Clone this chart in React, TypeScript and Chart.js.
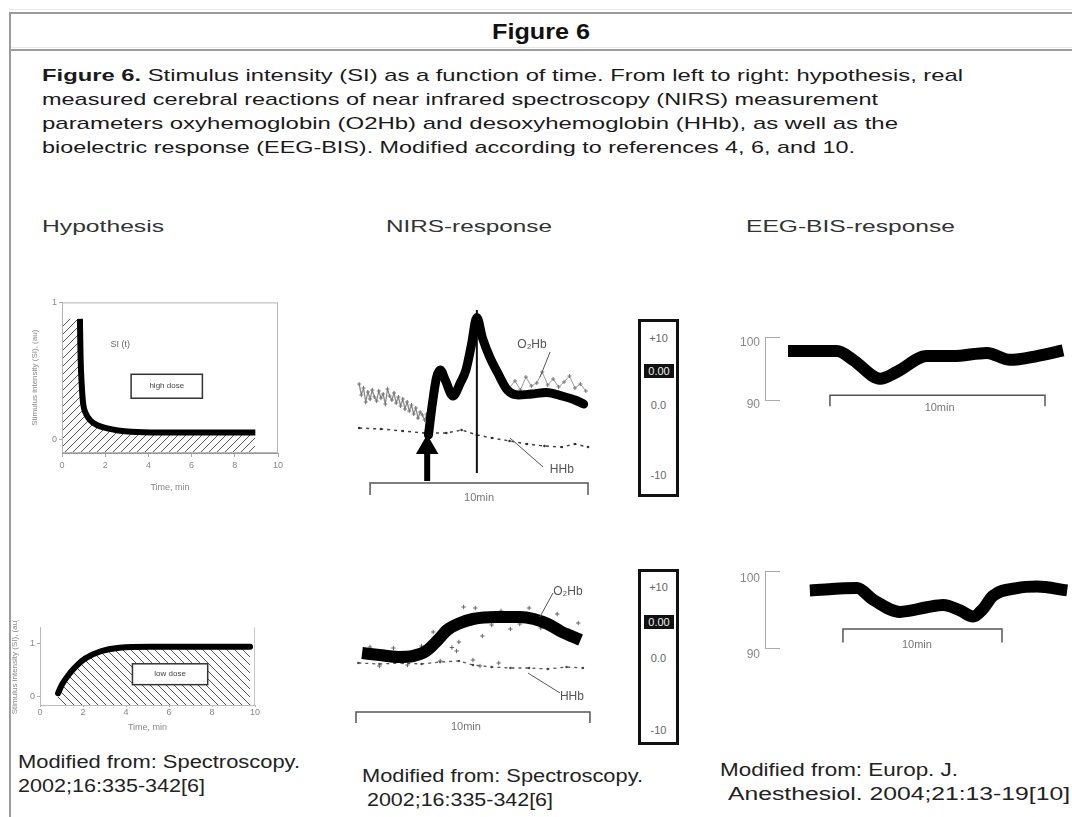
import React, { useEffect, useRef } from "react";
import { Chart, registerables } from "chart.js";

Chart.register(...registerables);

// ---------------- data ----------------
// Hypothesis panels: stimulus intensity (au) vs time (min)
const hypTickTimes = [0, 2, 4, 6, 8, 10];
const hypTickSI = [0, 1];
const hypTopTime = [0.83, 0.86, 0.92, 0.98, 1.1, 1.3, 1.6, 2.1, 2.6, 3.2, 4.5, 6, 7.5, 8.95];
const hypTopSI = [0.88, 0.6, 0.38, 0.26, 0.19, 0.14, 0.105, 0.08, 0.065, 0.055, 0.05, 0.05, 0.05, 0.05];
const hypBotTime = [0.84, 1.02, 1.4, 1.77, 2.1, 2.8, 3.7, 5.1, 7.5, 9.77];
const hypBotSI = [0.07, 0.23, 0.45, 0.61, 0.72, 0.85, 0.92, 0.94, 0.94, 0.94];

// NIRS top (time in min, concentration change in au)
const nirsTopO2HbTime = [2.68, 2.85, 3.05, 3.22, 3.45, 3.8, 4.15, 4.4, 4.65, 4.9, 5.15, 5.5, 5.85, 6.3, 6.8, 7.4, 8.1, 8.8, 9.4, 9.8];
const nirsTopO2Hb = [-7, -1, 4.5, 6, 4, 0.8, 3.5, 6, 11, 16.5, 12.5, 8.5, 5.5, 2, 1, 1.2, 1.5, 0.8, 0, -0.8];
const nirsTopRawTime = [-0.5, -0.4, -0.3, -0.2, -0.1, 0, 0.1, 0.2, 0.3, 0.4, 0.5, 0.6, 0.7, 0.8, 0.9, 1.0, 1.1, 1.2, 1.3, 1.4, 1.5, 1.6, 1.7, 1.8, 1.9, 2.0, 2.1, 2.2, 2.3, 2.4, 2.5, 2.6];
const nirsTopRaw = [3.2, 1.0, 2.4, -0.4, 1.6, 0.2, 2.0, 0.6, -0.2, 1.8, 0.4, 1.2, -0.8, 2.2, 0.8, 0.0, 1.4, -0.6, 0.6, -1.2, 0.2, -1.8, -0.4, -2.2, -1.0, -2.8, -1.6, -3.6, -2.4, -3.0, -4.0, -2.8];
const nirsTopRawLateTime = [6.4, 6.65, 6.9, 7.15, 7.4, 7.65, 7.9, 8.15, 8.4, 8.65, 8.9, 9.15, 9.4, 9.65, 9.9];
const nirsTopRawLate = [2.5, 3.8, 2.0, 4.6, 2.8, 3.4, 5.6, 3.0, 4.2, 2.6, 3.6, 4.8, 2.4, 3.2, 1.8];
const nirsTopHHbTime = [-0.5, 0.5, 1.5, 2.5, 3.5, 4.2, 4.9, 5.6, 6.4, 7.2, 8.0, 8.8, 9.4, 10.0];
const nirsTopHHb = [-5.6, -5.8, -6.2, -6.6, -6.6, -6.0, -7.0, -7.6, -8.2, -8.8, -9.2, -9.4, -8.8, -9.4];
const nirsTopStimTime = 4.9;
const nirsTopStimRange = [18, -14.6];
const nirsTopArrowTime = 2.62;
const nirsTopArrowRange = [-16.2, -9.5];

// NIRS bottom
const nirsBotO2HbTime = [0.26, 1.0, 1.8, 2.44, 3.0, 3.5, 3.9, 4.4, 5.0, 6.0, 7.0, 7.6, 8.2, 8.8, 9.3, 9.6];
const nirsBotO2Hb = [0.4, 0, -0.4, -0.2, 0.8, 3, 5, 6.3, 7.2, 7.6, 7.6, 7.2, 6.2, 4.6, 3.6, 3];
const nirsBotRawTime = [0.6, 1.0, 1.6, 2.2, 2.8, 3.3, 3.6, 4.1, 4.3, 4.4, 4.6, 5.0, 5.1, 5.3, 5.4, 5.8, 6.1, 6.2, 6.6, 7.0, 7.4, 7.9, 8.6, 9.1, 9.5];
const nirsBotRaw = [1.6, -2.2, 1.4, -2.0, 1.8, 4.6, -1.2, 1.5, 0.8, 2.6, 9.6, -1.0, 9.4, -2.2, 3.8, 6.0, -1.6, 8.8, 5.2, 6.2, 9.4, 5.4, 8.2, 5.0, 6.4];
const nirsBotHHbTime = [0.1, 1.0, 2.0, 2.8, 3.6, 4.4, 5.0, 5.8, 6.6, 7.4, 8.2, 9.0, 9.7];
const nirsBotHHb = [-1.6, -1.8, -1.6, -1.8, -1.4, -1.2, -2.0, -2.4, -2.6, -2.6, -2.8, -2.4, -2.6];

// scale bar (min) and scale box labels
const scaleBarMin = [0, 10];
const scaleBoxLabels = ["+10", "0.00", "0.0", "-10"];

// EEG-BIS
const bisTicks = [90, 100];
const eegTopTime = [-1.95, 0.33, 1.07, 2.33, 3.12, 4.51, 5.72, 7.3, 8.37, 9.63, 10.84];
const eegTopBIS = [97.8, 97.8, 96.4, 93.4, 94.5, 97.0, 97.0, 97.5, 96.4, 97.0, 97.9];
const eegBotTime = [-2.08, 0.88, 1.89, 3.58, 5.28, 6.29, 7.36, 8.18, 8.81, 9.43, 10.94, 12.2, 14.1];
const eegBotBIS = [97.5, 97.8, 96.3, 94.7, 95.3, 95.6, 94.9, 94.1, 95.1, 96.8, 97.8, 98.0, 97.5];

// ---------------- helpers ----------------
const FAMILY = '"Liberation Sans", Arial, Helvetica, sans-serif';
const xy = (xs: number[], ys: number[]) => xs.map((x, i) => ({ x, y: ys[i] }));

const mctx = document.createElement("canvas").getContext("2d")!;
const textWidth = (t: string, font: string) => {
  mctx.font = font;
  return mctx.measureText(t).width;
};

function hatch(ctx: CanvasRenderingContext2D, dir: number) {
  const c = document.createElement("canvas");
  c.width = 8;
  c.height = 8;
  const g = c.getContext("2d")!;
  g.strokeStyle = "#555";
  g.lineWidth = 1;
  g.beginPath();
  if (dir > 0) {
    g.moveTo(0, 8); g.lineTo(8, 0);
    g.moveTo(-1, 1); g.lineTo(1, -1);
    g.moveTo(7, 9); g.lineTo(9, 7);
  } else {
    g.moveTo(0, 0); g.lineTo(8, 8);
    g.moveTo(-1, 7); g.lineTo(1, 9);
    g.moveTo(7, -1); g.lineTo(9, 1);
  }
  g.stroke();
  return ctx.createPattern(c, "repeat");
}

function marks(cfg: any) {
  return {
    id: "marks",
    afterDatasetsDraw(chart: any) {
      const { ctx, chartArea: a } = chart;
      const X = chart.scales.x;
      const Y = chart.scales.y;
      const px = (v: number) => X.getPixelForValue(v);
      const py = (v: number) => Y.getPixelForValue(v);
      ctx.save();
      if (cfg.frame) {
        ctx.strokeStyle = cfg.frame;
        ctx.lineWidth = 1;
        ctx.strokeRect(a.left + 0.5, a.top + 0.5, a.width - 1, a.height - 1);
      }
      if (cfg.rightLine) {
        ctx.strokeStyle = cfg.rightLine;
        ctx.lineWidth = 1;
        ctx.beginPath();
        ctx.moveTo(a.right - 0.5, a.top);
        ctx.lineTo(a.right - 0.5, a.bottom);
        ctx.stroke();
      }
      (cfg.lines || []).forEach((l: any) => {
        ctx.strokeStyle = l.color || "#444";
        ctx.lineWidth = l.width || 1;
        ctx.beginPath();
        ctx.moveTo(px(l.x1), py(l.y1));
        ctx.lineTo(px(l.x2), py(l.y2));
        ctx.stroke();
      });
      (cfg.boxes || []).forEach((b: any) => {
        const x1 = px(b.x1), x2 = px(b.x2), y1 = py(b.y1), y2 = py(b.y2);
        ctx.fillStyle = "#fff";
        ctx.fillRect(x1, y1, x2 - x1, y2 - y1);
        ctx.strokeStyle = "#333";
        ctx.lineWidth = 1.5;
        ctx.strokeRect(x1, y1, x2 - x1, y2 - y1);
        ctx.fillStyle = "#444";
        ctx.font = b.font;
        ctx.textAlign = "center";
        ctx.textBaseline = "middle";
        ctx.fillText(b.text, (x1 + x2) / 2, (y1 + y2) / 2);
      });
      (cfg.texts || []).forEach((t: any) => {
        ctx.fillStyle = t.color || "#555";
        ctx.font = t.font;
        ctx.textAlign = t.align || "center";
        ctx.textBaseline = "middle";
        ctx.fillText(t.text, px(t.x), py(t.y));
      });
      if (cfg.yMarks) {
        ctx.strokeStyle = "#aaa";
        ctx.lineWidth = 1;
        Y.ticks.forEach((tk: any) => {
          const yy = Math.round(py(tk.value)) + 0.5;
          ctx.beginPath();
          ctx.moveTo(a.left, yy);
          ctx.lineTo(a.left + cfg.yMarks, yy);
          ctx.stroke();
        });
      }
      ctx.restore();
    },
  };
}

function ChartBox({ left, top, width, height, make }: any) {
  const ref = useRef<HTMLCanvasElement>(null);
  useEffect(() => {
    const canvas = ref.current!;
    const chart = new Chart(canvas, make(canvas.getContext("2d")));
    return () => chart.destroy();
  }, []);
  return (
    <canvas
      ref={ref}
      width={width}
      height={height}
      style={{ position: "absolute", left, top, width, height }}
    />
  );
}

const baseOptions = (padding: any) => ({
  responsive: false,
  animation: false as const,
  events: [],
  layout: { padding, autoPadding: false },
  plugins: { legend: { display: false }, tooltip: { enabled: false } },
});

const hiddenAxis = (min: number, max: number) => ({ type: "linear" as const, display: false, min, max });

const bracket = (y1: number, y2: number) =>
  [
    { x: scaleBarMin[0], y: y2 },
    { x: scaleBarMin[0], y: y1 },
    { x: scaleBarMin[1], y: y1 },
    { x: scaleBarMin[1], y: y2 },
  ];

const thick = (data: any[], width: number, order: number, cap = "round") => ({
  data,
  borderColor: "#000",
  borderWidth: width,
  pointRadius: 0,
  cubicInterpolationMode: "monotone",
  borderCapStyle: cap,
  borderJoinStyle: "round",
  fill: false,
  order,
});

const hypAxes = (cfg: any) => ({
  x: {
    type: "linear",
    min: 0,
    max: 10,
    afterBuildTicks: (s: any) => { s.ticks = hypTickTimes.map((v) => ({ value: v })); },
    afterFit: (s: any) => { s.height = cfg.xh; },
    ticks: { color: "#888", font: { size: 9, family: FAMILY }, padding: cfg.xpad, maxRotation: 0 },
    grid: { drawOnChartArea: false, tickLength: cfg.xtick, color: "#aaa" },
    border: { color: cfg.axisColor },
    title: { display: true, text: "Time, min", color: "#888", font: { size: 9, family: FAMILY }, padding: { top: cfg.xtpad, bottom: 0 } },
  },
  y: {
    type: "linear",
    min: cfg.ymin,
    max: cfg.ymax,
    afterBuildTicks: (s: any) => { s.ticks = hypTickSI.map((v) => ({ value: v })); },
    afterFit: (s: any) => { s.width = cfg.yw; },
    ticks: { color: "#888", font: { size: 9, family: FAMILY }, padding: 2 },
    grid: { drawOnChartArea: false, tickLength: 3, color: "#aaa" },
    border: { color: cfg.axisColor },
    title: { display: true, text: "Stimulus intensity (SI), (au)", color: "#888", font: { size: 8, family: FAMILY }, padding: { top: 0, bottom: 1 } },
  },
});

// ---------------- chart configs ----------------
const makeHypTop = (ctx: CanvasRenderingContext2D) => {
  const curve = xy(hypTopTime, hypTopSI);
  return {
    type: "line",
    data: {
      datasets: [
        thick(curve, 6, 1, "butt"),
        { data: [{ x: 0, y: hypTopSI[0] }, ...curve], borderWidth: 0, pointRadius: 0, cubicInterpolationMode: "monotone", fill: "start", backgroundColor: hatch(ctx, 1), order: 2 },
      ],
    },
    options: {
      ...baseOptions({ left: 8, top: 5, right: 12, bottom: 0 }),
      scales: hypAxes({ xh: 40, yw: 32, xpad: 3, xtick: 4, xtpad: 6, ymin: -0.1, ymax: 1.0, axisColor: "#999" }),
    },
    plugins: [
      marks({
        frame: "#b5b5b5",
        texts: [{ text: "SI (t)", x: 2.7, y: 0.69, font: `9px ${FAMILY}`, color: "#666" }],
        boxes: [{ x1: 3.2, y1: 0.475, x2: 6.5, y2: 0.3, text: "high dose", font: `8px ${FAMILY}` }],
      }),
    ],
  };
};

const makeHypBot = (ctx: CanvasRenderingContext2D) => {
  const curve = xy(hypBotTime, hypBotSI);
  return {
    type: "line",
    data: {
      datasets: [
        thick(curve, 6, 1, "round"),
        { data: curve, borderWidth: 0, pointRadius: 0, cubicInterpolationMode: "monotone", fill: "start", backgroundColor: hatch(ctx, -1), order: 2 },
      ],
    },
    options: {
      ...baseOptions({ left: 5, top: 5, right: 8, bottom: 0 }),
      scales: hypAxes({ xh: 28, yw: 30, xpad: 0, xtick: 2, xtpad: 1, ymin: -0.15, ymax: 1.3, axisColor: "#bbb" }),
    },
    plugins: [
      marks({
        rightLine: "#c8c8c8",
        boxes: [{ x1: 4.3, y1: 0.62, x2: 7.8, y2: 0.23, text: "low dose", font: `8px ${FAMILY}` }],
      }),
    ],
  };
};

const labelFont = `12px ${FAMILY}`;

const makeNirsTop = () => ({
  type: "line",
  data: {
    datasets: [
      thick(xy(nirsTopO2HbTime, nirsTopO2Hb), 9, 1),
      { data: xy([nirsTopStimTime, nirsTopStimTime], nirsTopStimRange), borderColor: "#111", borderWidth: 2, pointRadius: 0, order: 2 },
      {
        data: xy([nirsTopArrowTime, nirsTopArrowTime], nirsTopArrowRange),
        borderColor: "#000",
        borderWidth: 6,
        pointRadius: [0, 7],
        pointStyle: "triangle",
        pointBackgroundColor: "#000",
        pointBorderColor: "#000",
        order: 2,
      },
      { data: xy(nirsTopRawTime, nirsTopRaw), borderColor: "#8c8c8c", borderWidth: 1.3, pointRadius: 2, pointStyle: "cross", pointBorderColor: "#777", pointBorderWidth: 1, order: 5 },
      { data: xy(nirsTopRawLateTime, nirsTopRawLate), borderColor: "#999", borderWidth: 1, pointRadius: 2, pointStyle: "cross", pointBorderColor: "#777", pointBorderWidth: 1, order: 6 },
      { data: xy(nirsTopHHbTime, nirsTopHHb), borderColor: "#444", borderWidth: 1.5, borderDash: [3, 4], pointRadius: 1.3, pointBackgroundColor: "#333", pointBorderWidth: 0, order: 4 },
      { data: bracket(-16.6, -19), borderColor: "#555", borderWidth: 1.5, pointRadius: 0, order: 7 },
    ],
  },
  options: {
    ...baseOptions(0),
    scales: { x: hiddenAxis(-1.15, 10.55), y: hiddenAxis(-21, 20) },
  },
  plugins: [
    marks({
      texts: [
        { text: "O₂Hb", x: 7.43, y: 11, font: labelFont, color: "#555" },
        { text: "HHb", x: 8.8, y: -14, font: labelFont, color: "#555" },
        { text: "10min", x: 5, y: -19.5, font: `11px ${FAMILY}`, color: "#777" },
      ],
      lines: [
        { x1: 8.26, y1: 9.6, x2: 7.8, y2: 4.6, color: "#555" },
        { x1: 6.42, y1: -7.6, x2: 7.94, y2: -13.4, color: "#555" },
      ],
    }),
  ],
});

const makeNirsBot = () => ({
  type: "line",
  data: {
    datasets: [
      thick(xy(nirsBotO2HbTime, nirsBotO2Hb), 12, 1, "butt"),
      { data: xy(nirsBotRawTime, nirsBotRaw), showLine: false, pointRadius: 2.2, pointStyle: "cross", pointBorderColor: "#666", pointBorderWidth: 1, order: 3 },
      { data: xy(nirsBotHHbTime, nirsBotHHb), borderColor: "#555", borderWidth: 1.3, borderDash: [3, 4], pointRadius: 1.2, pointBackgroundColor: "#444", pointBorderWidth: 0, order: 4 },
      { data: bracket(-11.4, -13.6), borderColor: "#555", borderWidth: 1.5, pointRadius: 0, order: 7 },
    ],
  },
  options: {
    ...baseOptions(0),
    scales: { x: hiddenAxis(-0.47, 10.43), y: hiddenAxis(-16, 15) },
  },
  plugins: [
    marks({
      texts: [
        { text: "O₂Hb", x: 9.06, y: 12.6, font: labelFont, color: "#555" },
        { text: "HHb", x: 9.23, y: -8.4, font: labelFont, color: "#555" },
        { text: "10min", x: 4.7, y: -14.4, font: `11px ${FAMILY}`, color: "#777" },
      ],
      lines: [
        { x1: 8.42, y1: 12.4, x2: 7.86, y2: 7.6, color: "#555" },
        { x1: 7.35, y1: -3.6, x2: 8.72, y2: -7.6, color: "#555" },
      ],
    }),
  ],
});

const bisAxis = (labelOffset: number) => ({
  type: "linear",
  min: 90,
  max: 100,
  afterBuildTicks: (s: any) => { s.ticks = bisTicks.map((v) => ({ value: v })); },
  afterFit: (s: any) => { s.width = 30; },
  ticks: { color: "#888", font: { size: 12, family: FAMILY }, padding: 5, labelOffset },
  grid: { display: false, drawTicks: false, tickLength: 0 },
  border: { display: true, color: "#aaa" },
});

const makeEeg = (time: number[], bis: number[], xmin: number, xmax: number, br: number[], txt: number[], pad: any, lo: number) => () => ({
  type: "line",
  data: {
    datasets: [
      thick(xy(time, bis), 12, 1, "butt"),
      { data: bracket(br[0], br[1]), borderColor: "#555", borderWidth: 1.5, pointRadius: 0, clip: false, order: 3 },
    ],
  },
  options: {
    ...baseOptions(pad),
    scales: { x: hiddenAxis(xmin, xmax), y: bisAxis(lo) },
  },
  plugins: [
    marks({
      yMarks: 15,
      texts: [{ text: "10min", x: txt[0], y: txt[1], font: `11px ${FAMILY}`, color: "#777" }],
    }),
  ],
});

// ---------------- text ----------------
function Txt({ x, cx, y, w, size, bold, color = "#222", children }: any) {
  const font = `${bold ? "bold " : ""}${size}px ${FAMILY}`;
  const m = textWidth(children, font);
  const sx = w ? w / m : 1;
  const left = cx !== undefined ? cx - (m * sx) / 2 : x;
  const lh = Math.round(size * 1.15);
  return (
    <div
      style={{
        position: "absolute",
        left,
        top: y - lh / 2,
        font,
        lineHeight: `${lh}px`,
        color,
        whiteSpace: "pre",
        transform: `scaleX(${sx})`,
        transformOrigin: "0 0",
      }}
    >
      {children}
    </div>
  );
}

function RichLine({ x, y, w, size, parts, color = "#1a1a1a" }: any) {
  const f = (b: boolean) => `${b ? "bold " : ""}${size}px ${FAMILY}`;
  const m = parts.reduce((s: number, p: any) => s + textWidth(p.t, f(!!p.b)), 0);
  const sx = w / m;
  const lh = Math.round(size * 1.15);
  return (
    <div
      style={{
        position: "absolute",
        left: x,
        top: y - lh / 2,
        font: f(false),
        lineHeight: `${lh}px`,
        color,
        whiteSpace: "pre",
        transform: `scaleX(${sx})`,
        transformOrigin: "0 0",
      }}
    >
      {parts.map((p: any, i: number) => (
        <span key={i} style={{ fontWeight: p.b ? "bold" : "normal" }}>
          {p.t}
        </span>
      ))}
    </div>
  );
}

const captionLines = [
  [{ t: "Figure 6.", b: true }, { t: " Stimulus intensity (SI) as a function of time. From left to right: hypothesis, real" }],
  [{ t: "measured cerebral reactions of near infrared spectroscopy (NIRS) measurement" }],
  [{ t: "parameters oxyhemoglobin (O2Hb) and desoxyhemoglobin (HHb), as well as the" }],
  [{ t: "bioelectric response (EEG-BIS). Modified according to references 4, 6, and 10." }],
];
const captionWidths = [921, 836, 856, 813];

function ScaleBox({ left, top, height, offsets }: any) {
  return (
    <div
      style={{
        position: "absolute",
        left,
        top,
        width: 41,
        height,
        boxSizing: "border-box",
        border: "3px solid #111",
        background: "#fff",
      }}
    >
      {scaleBoxLabels.map((t, i) =>
        i === 1 ? (
          <div
            key={i}
            style={{
              position: "absolute",
              left: 3,
              width: 30,
              top: offsets[i] - 3 - 7,
              height: 14,
              background: "#111",
              color: "#eee",
              font: `11px ${FAMILY}`,
              lineHeight: "14px",
              textAlign: "center",
            }}
          >
            {t}
          </div>
        ) : (
          <div
            key={i}
            style={{
              position: "absolute",
              left: 0,
              width: 35,
              top: offsets[i] - 3 - 7,
              height: 14,
              color: "#666",
              font: `11px ${FAMILY}`,
              lineHeight: "14px",
              textAlign: "center",
            }}
          >
            {t}
          </div>
        )
      )}
    </div>
  );
}

export default function App() {
  return (
    <div
      style={{
        position: "absolute",
        left: 0,
        top: 0,
        width: 1072,
        height: 817,
        overflow: "hidden",
        background: "#fff",
      }}
    >
      {/* frame */}
      <div style={{ position: "absolute", left: 9, top: 9, width: 1063, height: 1, background: "#e8e8e8" }} />
      <div style={{ position: "absolute", left: 9, top: 12, width: 1063, height: 2, background: "#9c9c9c" }} />
      <div style={{ position: "absolute", left: 9, top: 47, width: 1063, height: 1, background: "#e8e8e8" }} />
      <div style={{ position: "absolute", left: 9, top: 49, width: 1063, height: 2, background: "#9c9c9c" }} />
      <div style={{ position: "absolute", left: 9, top: 12, width: 2, height: 805, background: "#9c9c9c" }} />

      <Txt cx={541} y={31} w={98} size={22} bold color="#111">
        Figure 6
      </Txt>

      {captionLines.map((parts, i) => (
        <RichLine key={i} x={42} y={76 + i * 24} w={captionWidths[i]} size={17} parts={parts} />
      ))}

      <Txt x={42} y={227} w={122} size={17} color="#333">Hypothesis</Txt>
      <Txt x={386} y={227} w={166} size={17} color="#333">NIRS-response</Txt>
      <Txt x={746} y={227} w={209} size={17} color="#333">EEG-BIS-response</Txt>

      <ChartBox left={22} top={295} width={268} height={198} make={makeHypTop} />
      <ChartBox left={5} top={620} width={258} height={113} make={makeHypBot} />
      <ChartBox left={345} top={300} width={255} height={205} make={makeNirsTop} />
      <ChartBox left={345} top={580} width={255} height={155} make={makeNirsBot} />
      <ChartBox
        left={735}
        top={325}
        width={333}
        height={91}
        make={makeEeg(eegTopTime, eegTopBIS, -3.02, 11.07, [90.75, 89.0], [5.1, 88.8], { top: 8, bottom: 16, left: 0, right: 0 }, 5)}
      />
      <ChartBox
        left={735}
        top={559}
        width={333}
        height={103}
        make={makeEeg(eegBotTime, eegBotBIS, -4.9, 14.15, [92.47, 90.7], [4.65, 90.4], { top: 8, bottom: 14, left: 0, right: 0 }, 7)}
      />

      <ScaleBox left={638} top={319} height={178} offsets={[19, 52, 86, 156]} />
      <ScaleBox left={638} top={569} height={176} offsets={[18, 53, 89, 161]} />

      <Txt x={18} y={762} w={282} size={18} color="#222">Modified from: Spectroscopy.</Txt>
      <Txt x={18} y={786} w={187} size={18} color="#222">2002;16:335-342[6]</Txt>
      <Txt x={362} y={776} w={281} size={18} color="#222">Modified from: Spectroscopy.</Txt>
      <Txt x={367} y={800} w={186} size={18} color="#222">2002;16:335-342[6]</Txt>
      <Txt x={720} y={770} w={238} size={18} color="#222">Modified from: Europ. J.</Txt>
      <Txt x={728} y={794} w={342} size={18} color="#222">Anesthesiol. 2004;21:13-19[10]</Txt>
    </div>
  );
}
